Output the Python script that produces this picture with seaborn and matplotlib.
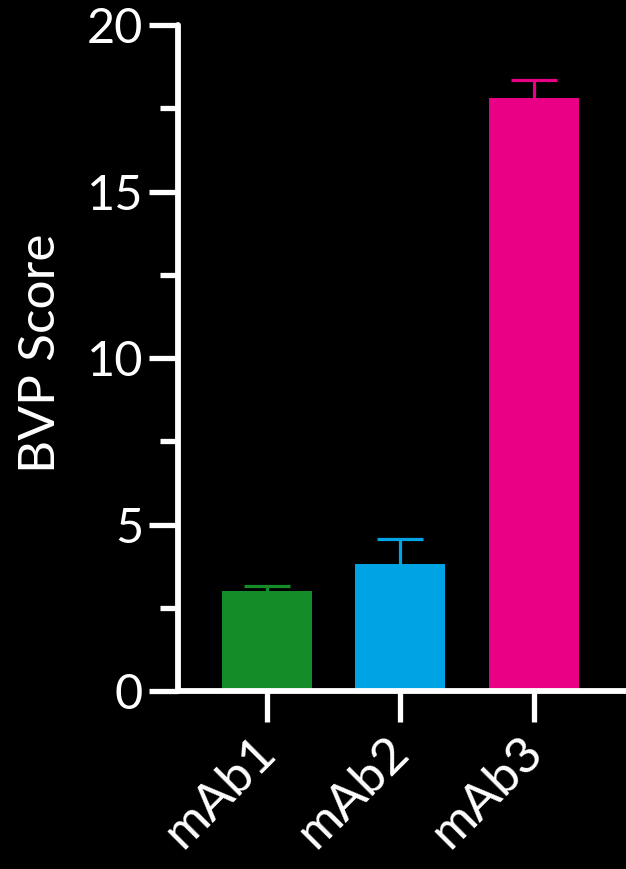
import matplotlib
matplotlib.use("Agg")
import matplotlib.pyplot as plt
import matplotlib.transforms as mtransforms
from matplotlib.ticker import MultipleLocator
import seaborn as sns
import pandas as pd

# Mean BVP score and SEM per antibody
antibodies = ["mAb1", "mAb2", "mAb3"]
bvp_mean = [3.00, 3.81, 17.81]
bvp_sem = [0.15, 0.75, 0.54]
bar_colors = ["#148C27", "#00A4E4", "#EA0085"]

sns.set_theme(style="ticks")
plt.rcParams["font.family"] = ["Lato", "DejaVu Sans"]

df = pd.DataFrame({"antibody": antibodies, "score": bvp_mean})

fig = plt.figure(figsize=(6.26, 8.69), dpi=100, facecolor="black")
ax = fig.add_axes([0.2843, 0.2048, 0.7157, 0.7664])
ax.set_facecolor("black")

sns.barplot(data=df, x="antibody", y="score", hue="antibody",
            palette=bar_colors, width=0.674, errorbar=None,
            legend=False, ax=ax, saturation=1, linewidth=0)

# upper-only SEM whiskers in each bar's colour
for i, (m, e, c) in enumerate(zip(bvp_mean, bvp_sem, bar_colors)):
    eb = ax.errorbar(i, m, yerr=[[0], [e]], fmt="none", ecolor=c,
                     elinewidth=2.3, capsize=16.5, capthick=2.3, zorder=3)
    for cap in eb.lines[1]:
        if abs(cap.get_ydata()[0] - m) < 1e-9:
            cap.set_visible(False)

ax.set_ylim(0, 20)
ax.set_xlim(-0.667, 2.69)
ax.yaxis.set_major_locator(MultipleLocator(5))
ax.yaxis.set_minor_locator(MultipleLocator(2.5))

for side in ("top", "right"):
    ax.spines[side].set_visible(False)
for side in ("left", "bottom"):
    ax.spines[side].set_color("white")
    ax.spines[side].set_linewidth(4.2)
    ax.spines[side].set_capstyle("round")

ax.tick_params(axis="y", which="major", colors="white", labelcolor="white",
               length=21, width=3.8, labelsize=35, pad=4)
ax.tick_params(axis="y", which="minor", colors="white", length=13,
               width=3.8)
ax.tick_params(axis="x", which="major", colors="white", labelcolor="white",
               length=22, width=3.8, labelsize=37, pad=12)

ax.set_xticks(range(len(antibodies)))
ax.set_xticklabels(antibodies, rotation=45, ha="right",
                   rotation_mode="anchor")
# nudge the slanted category labels left and up a little
shift = mtransforms.ScaledTranslation(-15 / 100, 10 / 100, fig.dpi_scale_trans)
for lbl in ax.get_xticklabels():
    lbl.set_transform(lbl.get_transform() + shift)

ax.set_xlabel("")
ax.set_ylabel("BVP Score", color="white", fontsize=37, labelpad=14)
ax.yaxis.set_label_coords(-0.255, 0.507)

fig.savefig("out.png", dpi=100, facecolor="black")
